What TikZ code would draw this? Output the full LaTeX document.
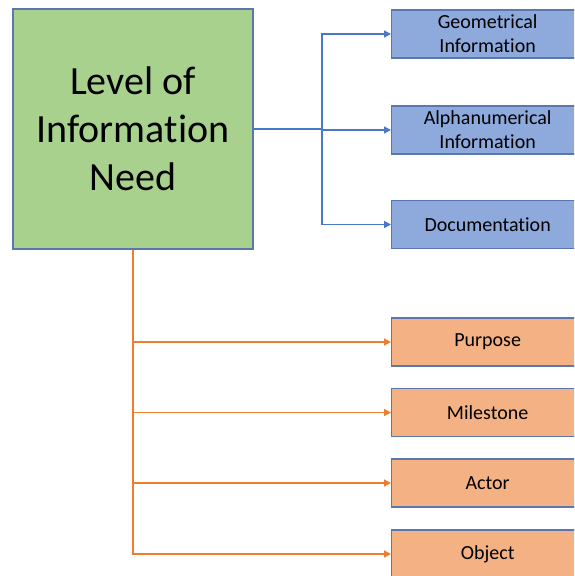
\documentclass[tikz,border=0pt]{standalone}
\usepackage{fontspec}
\setmainfont[Ligatures={NoCommon,NoRare}]{Carlito}
\usetikzlibrary{arrows.meta}
\definecolor{mainfill}{HTML}{A9D18E}
\definecolor{boxline}{HTML}{5A77AE}
\definecolor{bluefill}{HTML}{8EA9DB}
\definecolor{blueline}{HTML}{4A78C8}
\definecolor{orfill}{HTML}{F4B183}
\definecolor{orline}{HTML}{ED7D31}
\tikzset{
  mainbox/.style={draw=boxline, line width=1.3pt, fill=mainfill, minimum width=240pt, minimum height=240pt, align=center, inner sep=0pt, font=\fontsize{40}{48}\selectfont},
  bluebox/.style={draw=boxline, line width=1.3pt, fill=bluefill, minimum width=192pt, minimum height=48pt, anchor=west, align=center, inner sep=0pt, font=\fontsize{20}{24}\selectfont},
  orbox/.style={draw=boxline, line width=1.3pt, fill=orfill, minimum width=192pt, minimum height=48pt, anchor=west, align=center, inner sep=0pt, font=\fontsize{20}{24}\selectfont},
  bconn/.style={draw=blueline, line width=1.4pt, -{Triangle[length=7pt,width=7pt]}},
  bplain/.style={draw=blueline, line width=1.4pt},
  oconn/.style={draw=orline, line width=1.4pt, -{Triangle[length=7pt,width=7pt]}},
}
\begin{document}
\begin{tikzpicture}[x=1pt,y=-1pt]
\useasboundingbox (0,0) rectangle (574,576);
\clip (0,0) rectangle (574,576);
\node[mainbox] (main) at (133,129) {Level of\\Information\\Need};
\node[bluebox] (geo) at (391,34) {Geometrical\\Information};
\node[bluebox] (alpha) at (391,130) {Alphanumerical\\Information};
\node[bluebox] (doc) at (391,224.5) {Documentation};
\node[orbox] (purpose) at (391,342) {Purpose};
\node[orbox] (milestone) at (391,412.5) {Milestone};
\node[orbox] (actor) at (391,483) {Actor};
\node[orbox] (object) at (391,554) {Object};
\coordinate (bj) at (322,129);
\draw[bplain] (main.east) -- (bj);
\draw[bconn] (bj) |- (geo.west);
\draw[bconn] (bj) |- (alpha.west);
\draw[bconn] (bj) |- (doc.west);
\draw[oconn] (main.south) |- (purpose.west);
\draw[oconn] (main.south) |- (milestone.west);
\draw[oconn] (main.south) |- (actor.west);
\draw[oconn] (main.south) |- (object.west);
\end{tikzpicture}
\end{document}
